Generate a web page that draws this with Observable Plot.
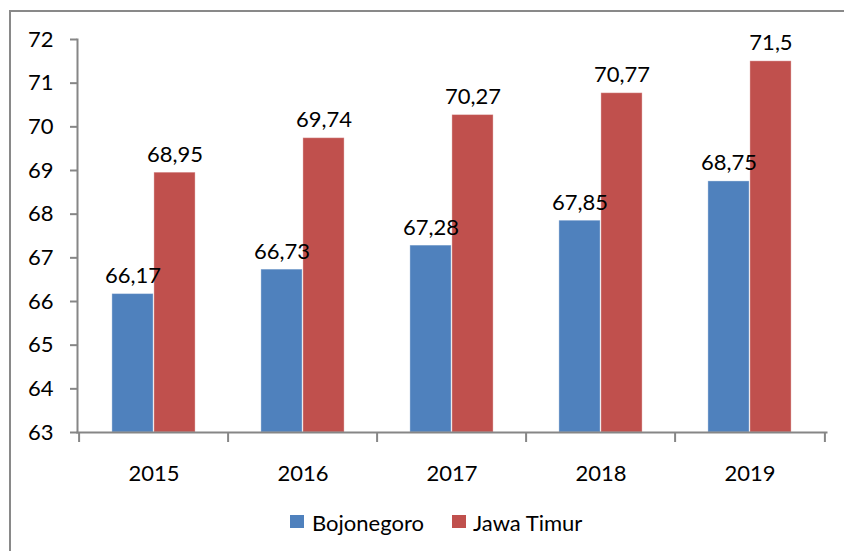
<!DOCTYPE html>
<html><head><meta charset="utf-8">
<script src="https://cdn.jsdelivr.net/npm/d3@7"></script>
<script src="https://cdn.jsdelivr.net/npm/@observablehq/plot@0.6"></script>
<style>
html,body{margin:0;padding:0;background:#fff;overflow:hidden}
#wrap{position:relative;width:844px;height:551px;font-family:Lato,sans-serif;overflow:hidden}
#frame{position:absolute;left:9px;top:10px;width:900px;height:600px;border:2px solid #898989;box-sizing:border-box}
#chart{position:absolute;left:0;top:0}
.sw{position:absolute;width:14px;height:13px;top:515px}
.lt{position:absolute;top:510px;font-size:22px;line-height:26px;color:#000;white-space:nowrap}
</style></head>
<body>
<div id="wrap">
  <div id="frame"></div>
  <div id="chart"></div>
  <div class="sw" style="left:290px;background:#4F81BD"></div>
  <div class="lt" id="l1" style="left:312px"></div>
  <div class="sw" style="left:452px;background:#C0504D"></div>
  <div class="lt" id="l2" style="left:473px"></div>
</div>
<script>
const years = ["2015", "2016", "2017", "2018", "2019"];
const bojonegoro = [66.17, 66.73, 67.28, 67.85, 68.75];
const jawaTimur = [68.95, 69.74, 70.27, 70.77, 71.5];
const seriesNames = ["Bojonegoro", "Jawa Timur"];
const yTicks = [63, 64, 65, 66, 67, 68, 69, 70, 71, 72];

const colors = ["#4F81BD", "#C0504D"];
const gray = "#868686";
const W = 844, H = 500, mL = 77, mR = 18, mT = 39, mB = 68;
const step = (W - mL - mR) / years.length;
const barW = 42;
const yMin = yTicks[0];
const fmt = v => String(v).replace(".", ",");

const data = years.map((year, i) => ({year, bojo: bojonegoro[i], jatim: jawaTimur[i]}));

document.getElementById("l1").textContent = seriesNames[0];
document.getElementById("l2").textContent = seriesNames[1];

const chart = Plot.plot({
  width: W, height: H,
  marginLeft: mL, marginRight: mR, marginTop: mT, marginBottom: mB,
  style: {fontFamily: "Lato, sans-serif", fontSize: "22px", color: "#000", background: "transparent", overflow: "visible"},
  x: {domain: years, padding: 0},
  y: {domain: [yTicks[0], yTicks[yTicks.length - 1]]},
  marks: [
    Plot.barY(data, {x: "year", y1: () => yMin, y2: "bojo", fill: colors[0],
      insetLeft: step / 2 - barW, insetRight: step / 2, stroke: "#fff", strokeOpacity: 0.35, strokeWidth: 1}),
    Plot.barY(data, {x: "year", y1: () => yMin, y2: "jatim", fill: colors[1],
      insetLeft: step / 2, insetRight: step / 2 - barW, stroke: "#fff", strokeOpacity: 0.35, strokeWidth: 1}),
    Plot.frame({anchor: "left", stroke: gray, strokeWidth: 2}),
    Plot.frame({anchor: "bottom", stroke: gray, strokeWidth: 2}),
    Plot.ruleX(years, {x: d => d, dx: -step / 2, y1: () => yMin, y2: () => yMin, insetBottom: -10, stroke: gray, strokeWidth: 2}),
    Plot.ruleX([years[years.length - 1]], {x: d => d, dx: step / 2, y1: () => yMin, y2: () => yMin, insetBottom: -10, stroke: gray, strokeWidth: 2}),
    Plot.axisY({ticks: yTicks, tickSize: 7, tickPadding: 17, tickFormat: d => String(d), stroke: gray, strokeWidth: 2, fill: "#000", fontSize: 22, label: null}),
    Plot.axisX({tickSize: 0, tickPadding: 33, fill: "#000", fontSize: 22, label: null}),
    Plot.text(data, {x: "year", y: "bojo", text: d => fmt(d.bojo), dx: -barW / 2, dy: -11, lineAnchor: "bottom", fontSize: 22, fill: "#000"}),
    Plot.text(data, {x: "year", y: "jatim", text: d => fmt(d.jatim), dx: barW / 2, dy: -11, lineAnchor: "bottom", fontSize: 22, fill: "#000"})
  ]
});
document.getElementById("chart").appendChild(chart);
</script>
</body></html>
